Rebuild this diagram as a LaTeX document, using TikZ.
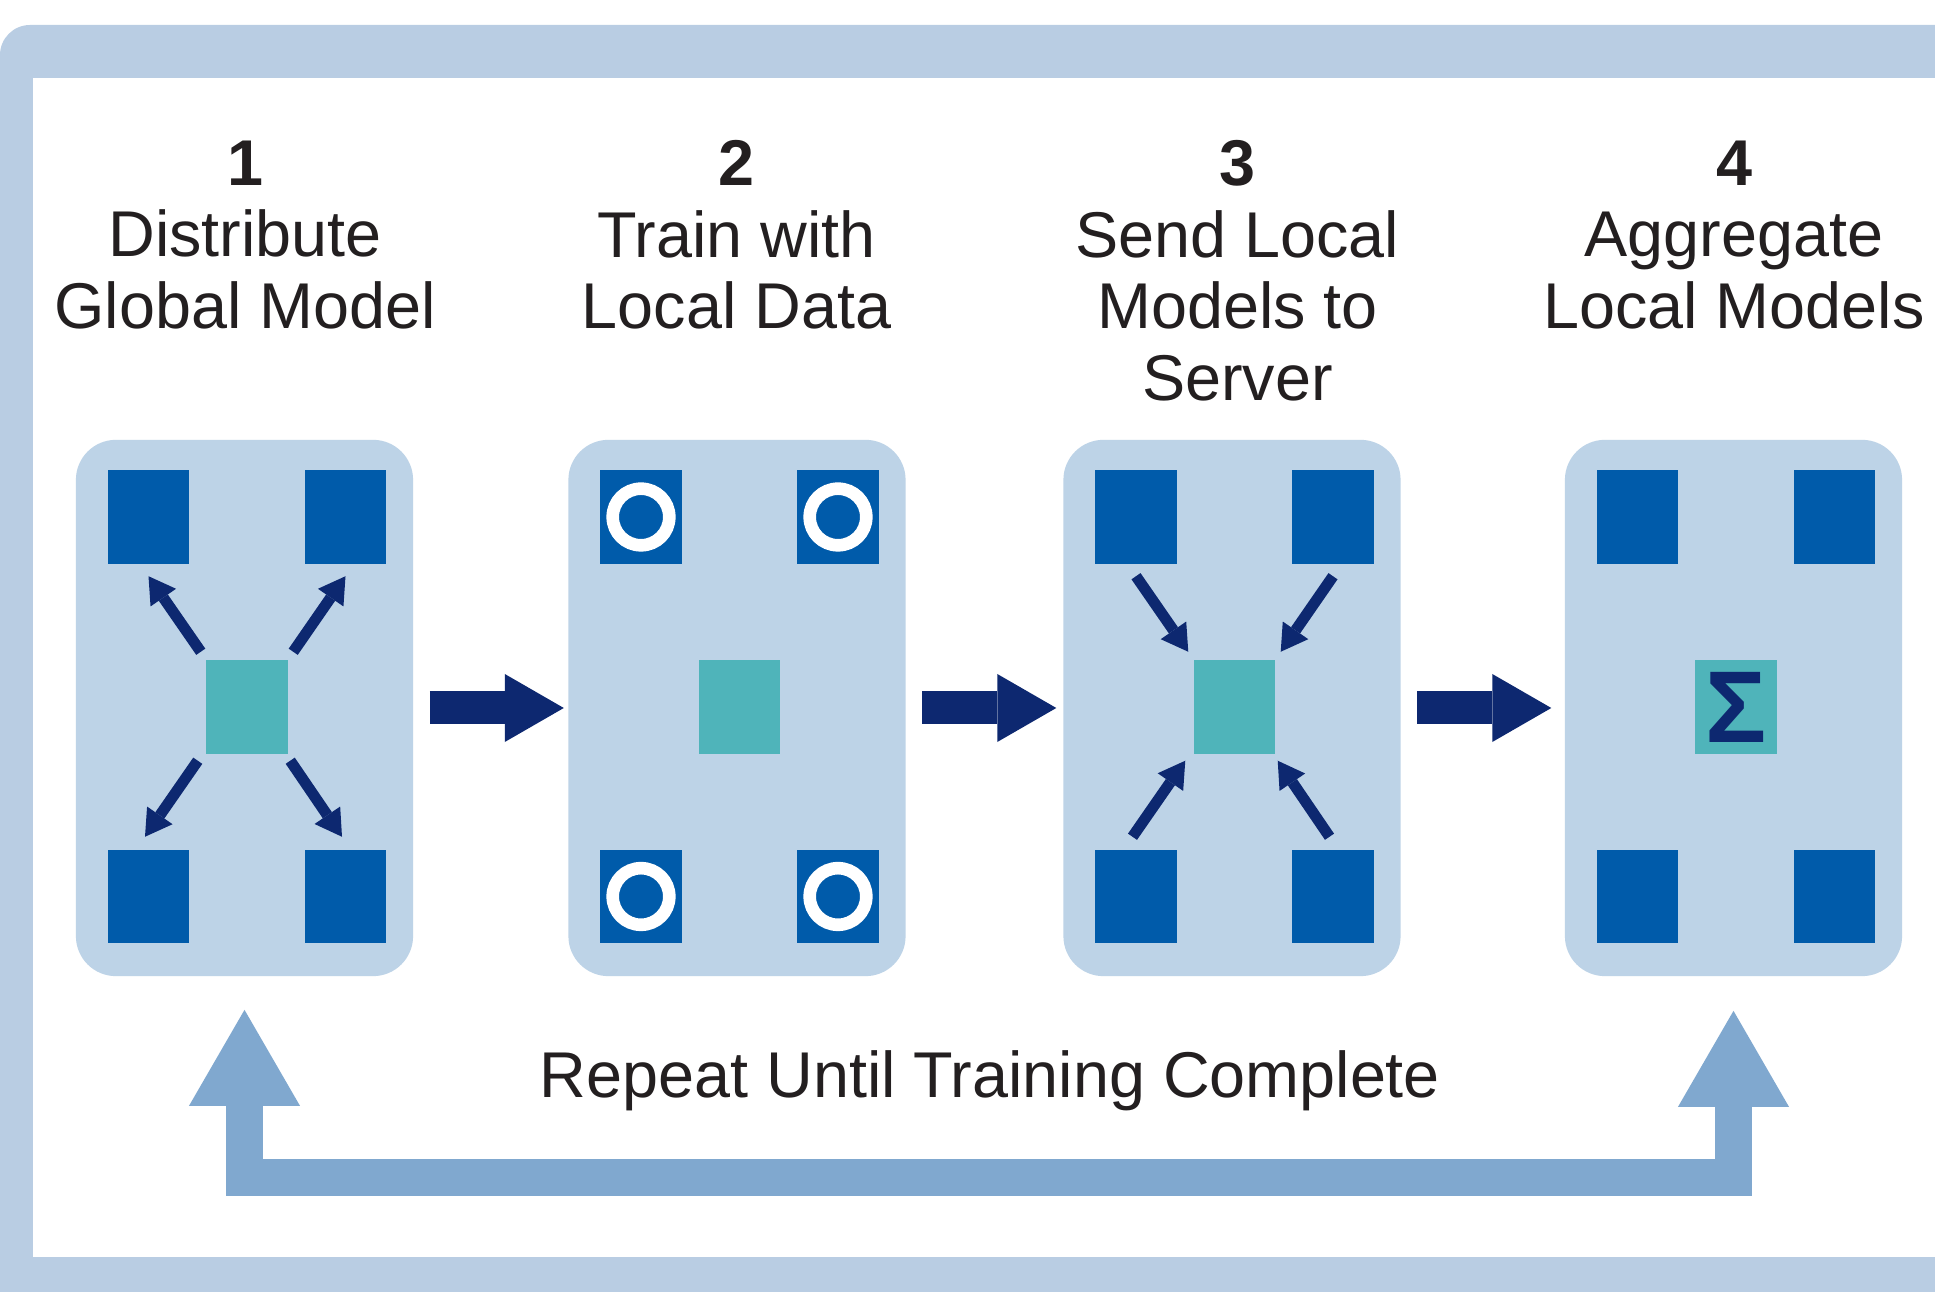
\documentclass[tikz,border=0pt]{standalone}
\usepackage{fontspec}
\setmainfont{Liberation Sans}
\usetikzlibrary{arrows.meta,positioning}
\definecolor{fbFrame}{HTML}{B9CDE3}
\definecolor{fbPanel}{HTML}{BDD3E7}
\definecolor{fbModel}{HTML}{005BAA}
\definecolor{fbGlobal}{HTML}{4FB4BA}
\definecolor{fbNavy}{HTML}{0D2870}
\definecolor{fbLoop}{HTML}{80A8CF}
\definecolor{fbText}{HTML}{231F20}

\begin{document}
\begin{tikzpicture}[x=0.01cm, y=-0.01cm,
  font=\fontsize{18.4}{20.35}\selectfont, text=fbText,
  panel/.style={fill=fbPanel, rounded corners=4mm, minimum width=3.37cm, minimum height=5.36cm, inner sep=0},
  modelbox/.style={fill=fbModel, minimum width=0.81cm, minimum height=0.93cm, inner sep=0},
  globalbox/.style={modelbox, fill=fbGlobal},
  datamark/.style={draw=white, line width=1.26mm},
  thinarrow/.style={fbNavy, line width=1.1mm, -{Triangle[length=2.6mm, width=3.1mm, line width=0pt]}},
  bigarrow/.style={fbNavy, line width=3.3mm, -{Triangle[length=5.9mm, width=6.8mm, line width=0pt]}},
  cyclearrow/.style={fbLoop, line width=3.7mm, line join=miter,
    {Triangle[length=9.6mm, width=11.1mm, line width=0pt]}-{Triangle[length=9.6mm, width=11.1mm, line width=0pt]}},
  steptitle/.style={align=center, anchor=north, inner sep=0}]

\useasboundingbox (0,0) rectangle (1935,1292);
\clip (0,0) rectangle (1935,1292);
% frame
\fill[fbFrame, rounded corners=3mm] (0,25) rectangle (2000,1350);
\fill[white] (33,78) rectangle (2000,1257);

% panels with clients and server
\foreach \i/\x in {1/244.5,2/737,3/1232,4/1733.5}{
  \node[panel] (p\i) at (\x,708) {};
  \node[globalbox] (c\i) at (\x+2.5,707) {};
  \node[modelbox] (tl\i) at (\x-96,517) {};
  \node[modelbox] (tr\i) at (\x+101,517) {};
  \node[modelbox] (bl\i) at (\x-96,896.5) {};
  \node[modelbox] (br\i) at (\x+101,896.5) {};
}

% titles
\foreach \i/\x/\txt in {1/245/{Distribute\\Global Model},
    2/736.5/{Train with\\Local Data},
    3/1237.5/{Send Local\\Models to\\Server},
    4/1734/{Aggregate\\Local Models}}{
  \node[steptitle] (t\i) at (\x,140) {\textbf{\i}\\\txt};
}

% step 1: distribute
\draw[thinarrow] ([shift={(-5,-8)}]c1.north west) -- ([shift={(0,12)}]tl1.south);
\draw[thinarrow] ([shift={(5,-8)}]c1.north east) -- ([shift={(0,12)}]tr1.south);
\draw[thinarrow] ([shift={(-8,6.5)}]c1.south west) -- ([shift={(-3.5,-12.5)}]bl1.north);
\draw[thinarrow] ([shift={(2,6.5)}]c1.south east) -- ([shift={(-3.5,-12.5)}]br1.north);

% step 2: local data
\foreach \q in {tl2,tr2,bl2,br2}
  \draw[datamark] (\q) circle[radius=0.283cm];

% step 3: send back
\draw[thinarrow] ([shift={(0,12)}]tl3.south) -- ([shift={(-5,-8)}]c3.north west);
\draw[thinarrow] ([shift={(0,12)}]tr3.south) -- ([shift={(5,-8)}]c3.north east);
\draw[thinarrow] ([shift={(-3.5,-12.5)}]bl3.north) -- ([shift={(-8,6.5)}]c3.south west);
\draw[thinarrow] ([shift={(-3.5,-12.5)}]br3.north) -- ([shift={(2,6.5)}]c3.south east);

% step 4: aggregate
\node[font=\fontsize{29}{29}\selectfont\bfseries, text=fbNavy, inner sep=0] (sum) at (c4) {Σ};

% between steps
\foreach \i in {1,2,3}
  \draw[bigarrow] ([shift={(16,0)}]p\i.east) -- ++(134,0);

% repeat loop
\draw[cyclearrow] ([shift={(0,33)}]p1.south) -- ++(0,167.5) -| ([shift={(0,34)}]p4.south);
\node[anchor=base] (rep) at (990,1098) {Repeat Until Training Complete};
\end{tikzpicture}
\end{document}
